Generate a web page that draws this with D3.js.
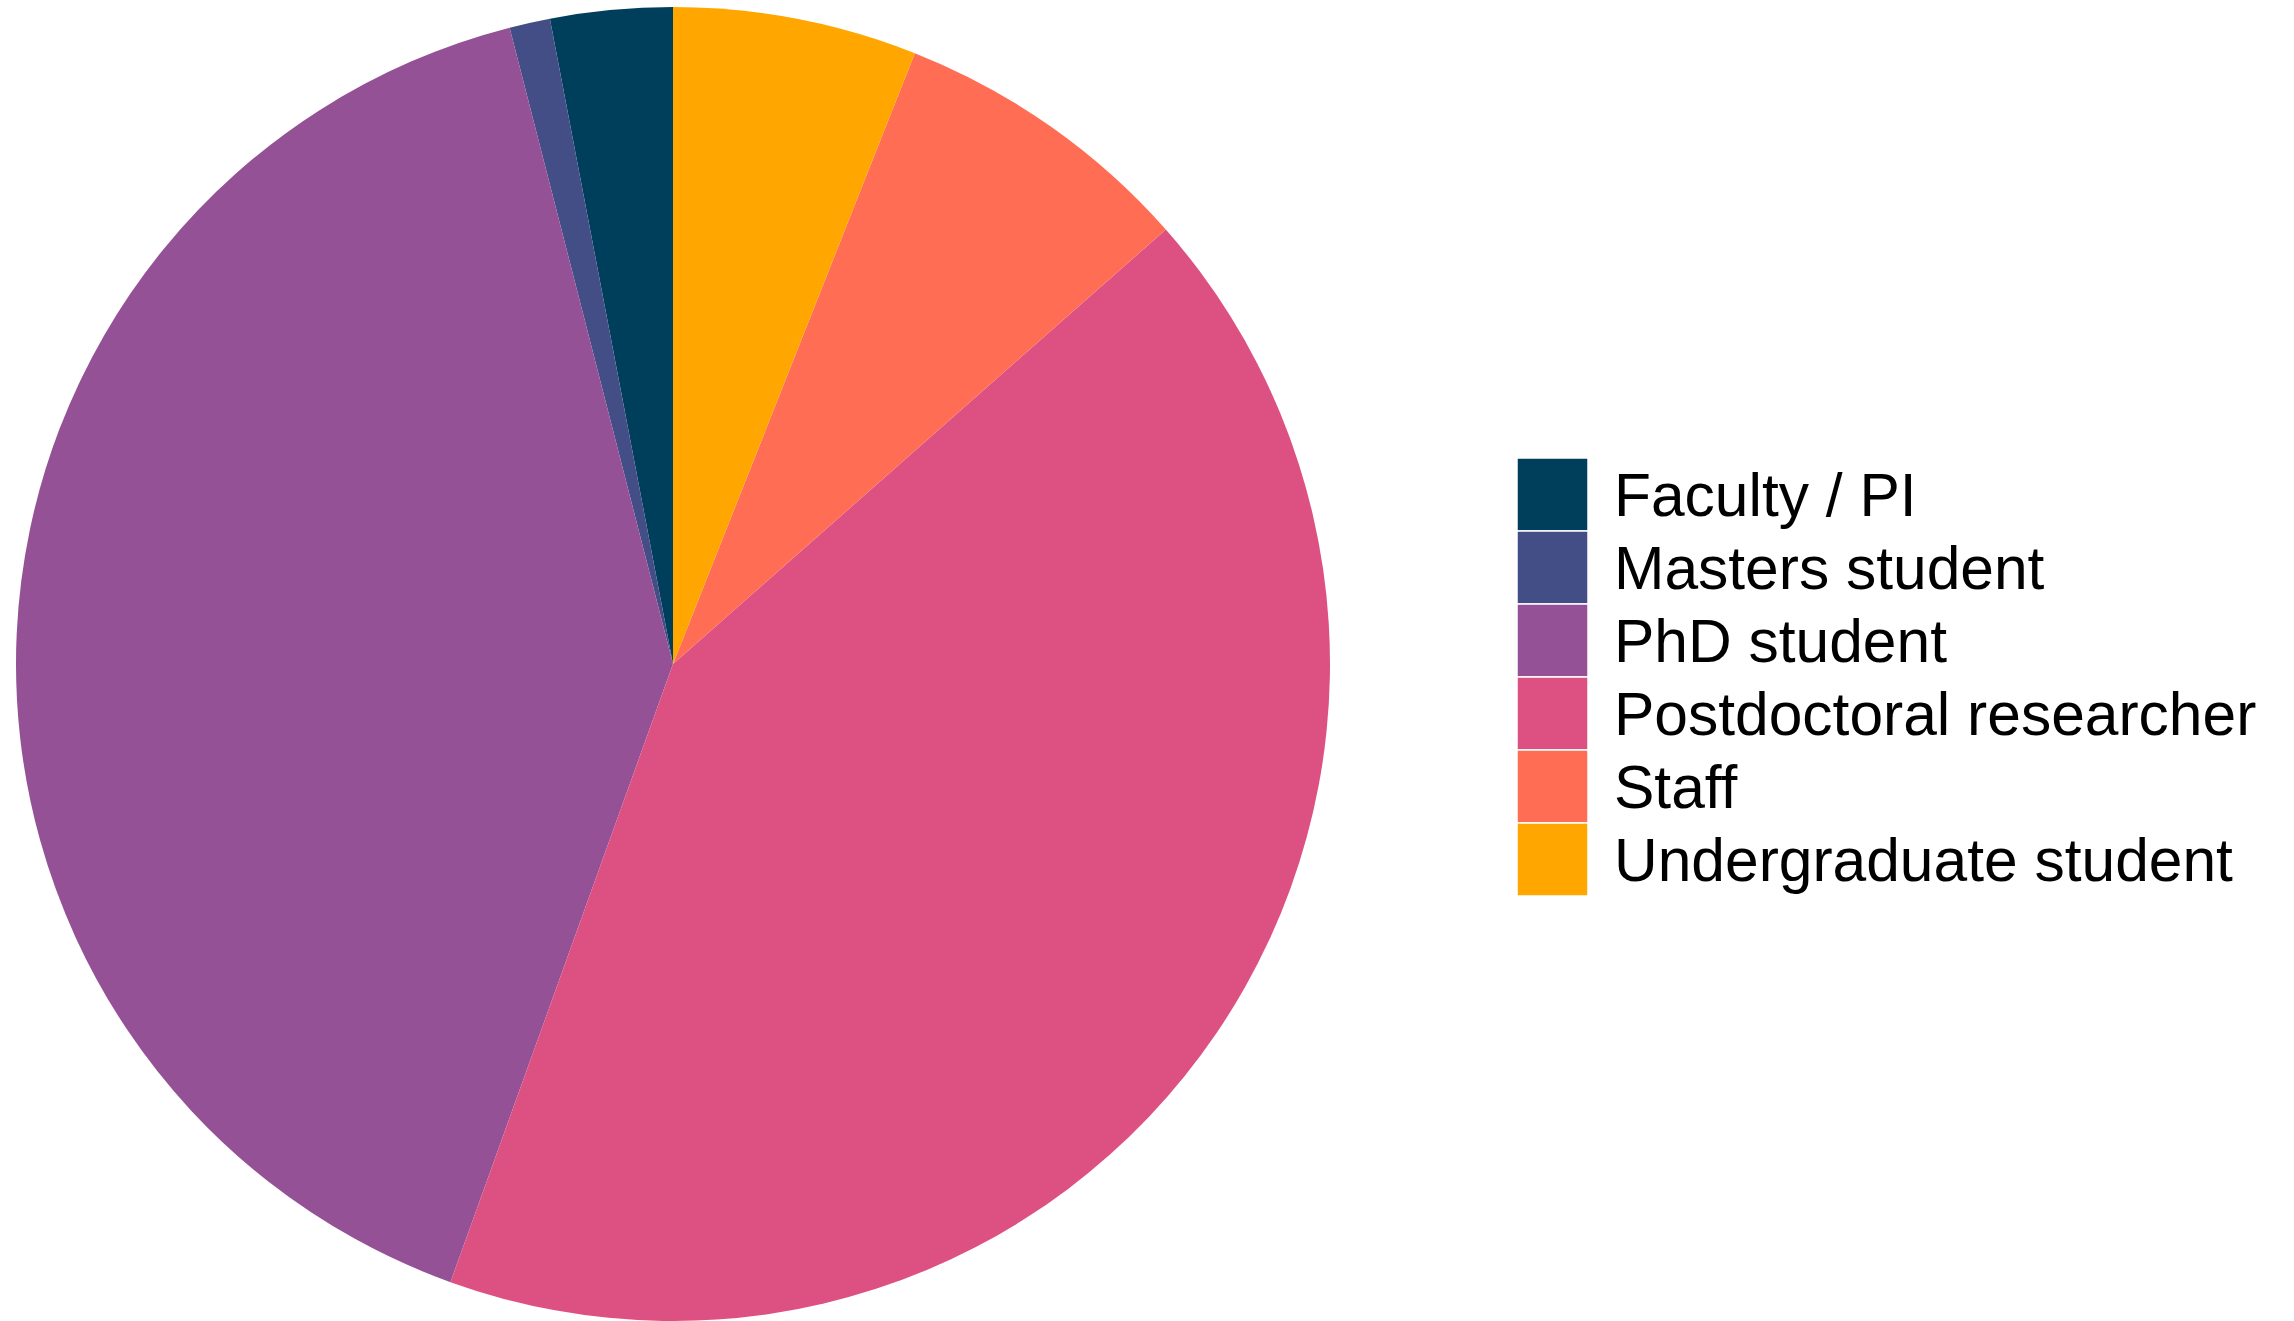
<!DOCTYPE html>
<html>
<head>
<meta charset="utf-8">
<script src="https://cdn.jsdelivr.net/npm/d3@7"></script>
<style>
  body { margin: 0; background: #fff; }
  svg { display: block; }
</style>
</head>
<body>
<div id="chart"></div>
<script>
// respondent roles, counts
const categories = ["Faculty / PI", "Masters student", "PhD student", "Postdoctoral researcher", "Staff", "Undergraduate student"];
const counts = [6, 2, 81, 84, 15, 12];
const colors = ["#003f5c", "#444e86", "#955196", "#dd5182", "#ff6e54", "#ffa600"];

const width = 2294, height = 1321;
const cx = 673, cy = 664, radius = 657;

const svg = d3.select("#chart").append("svg")
	.attr("width", width)
	.attr("height", height);

const color = d3.scaleOrdinal().domain(categories).range(colors);

// slices run counter-clockwise from 12 o'clock, like coord_polar(direction = -1)
const pie = d3.pie().sort(null).value(d => d.n).startAngle(0).endAngle(-2 * Math.PI);
const arc = d3.arc().innerRadius(0).outerRadius(radius);
const data = categories.map((c, i) => ({cat: c, n: counts[i]}));

svg.append("g")
	.attr("transform", `translate(${cx},${cy})`)
	.selectAll("path")
	.data(pie(data))
	.enter()
	.append("path")
	.attr("d", arc)
	.attr("fill", d => color(d.data.cat));

// legend
const keyX = 1517, keyW = 71, keyTop = 458, keyH = 73;
const legend = svg.append("g");
const y = d3.scaleBand().domain(categories).range([keyTop, keyTop + keyH * categories.length]);

legend.selectAll("rect")
	.data(categories)
	.enter()
	.append("rect")
	.attr("x", keyX)
	.attr("y", d => y(d))
	.attr("width", keyW)
	.attr("height", y.bandwidth())
	.attr("fill", d => color(d))
	.attr("stroke", "#fff")
	.attr("stroke-width", 1.5);

legend.selectAll("text")
	.data(categories)
	.enter()
	.append("text")
	.attr("x", 1614)
	.attr("y", d => y(d) + y.bandwidth() / 2)
	.attr("dy", "0.36em")
	.attr("font-family", "'Liberation Sans', Arial, sans-serif")
	.attr("font-size", 60.5)
	.attr("fill", "#000")
	.text(d => d);
</script>
</body>
</html>
